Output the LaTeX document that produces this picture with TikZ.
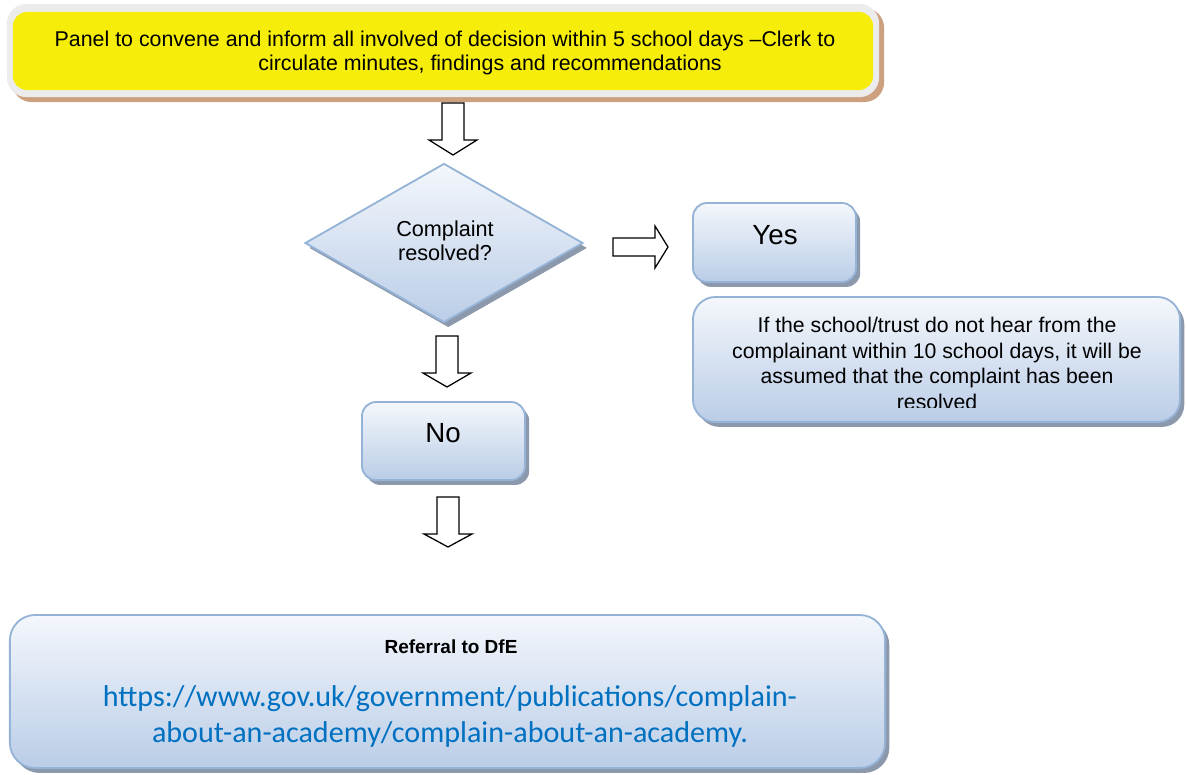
\documentclass[tikz,border=0pt]{standalone}
\usepackage{fontspec}
\setmainfont{Liberation Sans}
\newfontfamily\calibri{Carlito}
\usetikzlibrary{shadows,shapes.geometric}
\definecolor{boxtop}{RGB}{244,247,252}
\definecolor{boxbot}{RGB}{186,205,231}
\definecolor{boxline}{RGB}{149,179,215}
\definecolor{shadowc}{RGB}{140,152,172}
\definecolor{yel}{RGB}{246,238,10}
\definecolor{framec}{RGB}{236,236,236}
\definecolor{tanc}{RGB}{205,160,128}
\definecolor{linkc}{RGB}{0,112,192}
\newcommand{\px}[1]{\fontsize{#1pt}{1.2\dimexpr#1pt\relax}\selectfont}
\begin{document}
\begin{tikzpicture}[x=0.025cm,y=-0.025cm,
  bluebox/.style={draw=boxline, line width=1.3pt, top color=boxtop, bottom color=boxbot,
    drop shadow={shadow xshift=3pt, shadow yshift=-3.5pt, fill=shadowc, opacity=1}},
  blockarrow/.style={draw=black, line width=0.9pt, fill=white, line join=miter},
  txt/.style={inner sep=0pt, text=black, align=center}]
\useasboundingbox (0,0) rectangle (1186,775);

% top yellow box
\node[draw=none, fill=tanc, rounded corners=14pt, minimum width=21.8cm, minimum height=2.35cm, inner sep=0] at (448,55) {};
\node[draw=none, fill=framec, rounded corners=14pt, minimum width=21.8cm, minimum height=2.33cm, inner sep=0] (frame) at (443,50.5) {};
\node[fill=yel, rounded corners=10pt, minimum width=21.5cm, minimum height=1.95cm, inner sep=0] (panel) at (443,51) {};
\node[txt, font=\px{15.2}] at (445,41) {Panel to convene and inform all involved of decision within 5 school days –Clerk to};
\node[txt, font=\px{15.2}] at (490,65) {circulate minutes, findings and recommendations};

% arrow 1
\coordinate (a1) at (453,103);
\draw[blockarrow] (a1) ++(-11,0) -- ++(0,37) -- ++(-13,0) -- ++(24,15) -- ++(24,-15) -- ++(-13,0) -- ++(0,-37) -- cycle;

% diamond
\node[diamond, draw=boxline, line width=1.3pt, top color=boxtop, bottom color=boxbot,
  minimum width=6.95cm, minimum height=3.975cm, inner sep=0, aspect=1.75,
  drop shadow={shadow xshift=3pt, shadow yshift=-3.5pt, fill=shadowc, opacity=1}] (dec) at (444,243) {};
\node[txt, font=\px{15.4}] at (445,240.5) {Complaint\\[-1.5pt]resolved?};

% arrow right
\coordinate (a2) at (613,247);
\draw[blockarrow] (a2) ++(0,-9) -- ++(42,0) -- ++(0,-12) -- ++(13,21) -- ++(-13,21) -- ++(0,-12) -- ++(-42,0) -- cycle;

% Yes box
\node[bluebox, rounded corners=10pt, minimum width=4.075cm, minimum height=1.975cm, inner sep=0] (yes) at (774.5,242.5) {};
\node[txt, font=\px{19.7}] at (775,235) {Yes};

% info box
\node[bluebox, rounded corners=16pt, minimum width=12.175cm, minimum height=3.125cm, inner sep=0] (info) at (936.5,359.5) {};
\begin{scope}
\clip (693,297) rectangle (1180,407);
\node[txt, font=\px{15.1}, anchor=north] at (937,317) {If the school/trust do not hear from the\\complainant within 10 school days, it will be\\assumed that the complaint has been\\resolved};
\end{scope}

% arrow 2
\coordinate (a3) at (447,336);
\draw[blockarrow] (a3) ++(-11,0) -- ++(0,37) -- ++(-13,0) -- ++(24,14) -- ++(24,-14) -- ++(-13,0) -- ++(0,-37) -- cycle;

% No box
\node[bluebox, rounded corners=10pt, minimum width=4.075cm, minimum height=1.95cm, inner sep=0] (no) at (443.5,441) {};
\node[txt, font=\px{19.7}] at (443,433) {No};

% arrow 3
\coordinate (a4) at (448,497);
\draw[blockarrow] (a4) ++(-11,0) -- ++(0,37) -- ++(-13,0) -- ++(24,13) -- ++(24,-13) -- ++(-13,0) -- ++(0,-37) -- cycle;

% bottom box
\node[bluebox, rounded corners=18pt, minimum width=21.875cm, minimum height=3.825cm, inner sep=0] (dfe) at (447.5,691.5) {};
\node[txt, font=\px{13.5}\bfseries] at (451,647) {Referral to DfE};
\node[txt, font=\calibri\px{21.4}, text=linkc] at (450,716.5) {https://www.gov.uk/government/publications/complain-\\[0pt]about-an-academy/complain-about-an-academy.};
\end{tikzpicture}
\end{document}
